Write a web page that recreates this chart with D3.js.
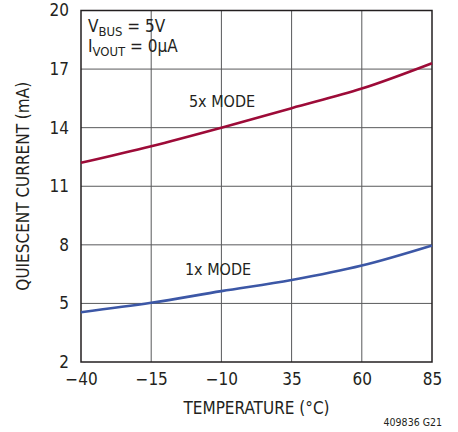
<!DOCTYPE html>
<html lang="en">
<head>
    <meta charset="UTF-8">
    <title>Quiescent Current vs Temperature</title>
    <script src="https://d3js.org/d3.v7.min.js"></script>
    <style>
        body { margin: 0; background: #fff; }
        text { font-family: "DejaVu Sans Condensed", "Liberation Sans Narrow", sans-serif; fill: #231f20; }
    </style>
</head>
<body>
    <script>
        // DATA
        var temps = [-40, -15, 10, 35, 60, 85];
        var mode5x = [12.2, 13.05, 14.0, 15.0, 16.0, 17.3];
        var mode1x = [4.55, 5.03, 5.63, 6.2, 6.94, 7.97];
        var xTickValues = [-40, -15, 10, 35, 60, 85];
        var xTickLabels = ["\u221240", "\u221215", "\u221210", "35", "60", "85"];
        var yTickValues = [2, 5, 8, 11, 14, 17, 20];

        var width = 458, height = 432;
        var margin = {left: 81, right: 26, top: 10.5, bottom: 70};

        var svg = d3.select("body").append("svg")
            .attr("width", width)
            .attr("height", height);

        var x = d3.scaleLinear().domain([-40, 85]).range([margin.left, width - margin.right]);
        var y = d3.scaleLinear().domain([2, 20]).range([height - margin.bottom, margin.top]);

        // grid
        var grid = svg.append("g").attr("stroke", "#58595b").attr("stroke-width", 1);
        grid.selectAll(".vx").data(xTickValues.slice(1, -1)).enter().append("line")
            .attr("x1", d => x(d)).attr("x2", d => x(d))
            .attr("y1", y(2)).attr("y2", y(20));
        grid.selectAll(".hy").data(yTickValues.slice(1, -1)).enter().append("line")
            .attr("x1", x(-40)).attr("x2", x(85))
            .attr("y1", d => y(d)).attr("y2", d => y(d));

        // frame
        svg.append("rect")
            .attr("x", x(-40)).attr("y", y(20))
            .attr("width", x(85) - x(-40)).attr("height", y(2) - y(20))
            .attr("fill", "none").attr("stroke", "#231f20").attr("stroke-width", 1.5);

        // axes
        var xAxis = d3.axisBottom(x).tickValues(xTickValues)
            .tickFormat((d, i) => xTickLabels[i]).tickSize(0).tickPadding(11);
        svg.append("g").attr("transform", "translate(0," + y(2) + ")").call(xAxis)
            .call(g => g.select(".domain").remove())
            .selectAll("text").attr("font-size", 17).style("font-family", null);

        var yAxis = d3.axisLeft(y).tickValues(yTickValues).tickSize(0).tickPadding(12);
        svg.append("g").attr("transform", "translate(" + x(-40) + ",0)").call(yAxis)
            .call(g => g.select(".domain").remove())
            .selectAll("text").attr("font-size", 17).style("font-family", null);

        // lines
        var line = d3.line().x(d => x(d[0])).y(d => y(d[1])).curve(d3.curveMonotoneX);
        svg.append("path").datum(d3.zip(temps, mode5x))
            .attr("d", line).attr("fill", "none")
            .attr("stroke", "#9d0b38").attr("stroke-width", 2.6);
        svg.append("path").datum(d3.zip(temps, mode1x))
            .attr("d", line).attr("fill", "none")
            .attr("stroke", "#3c57a6").attr("stroke-width", 2.6);

        // labels
        svg.append("text").attr("x", 222).attr("y", 107).attr("text-anchor", "middle")
            .attr("font-size", 16).text("5x MODE");
        svg.append("text").attr("x", 218).attr("y", 275).attr("text-anchor", "middle")
            .attr("font-size", 16).text("1x MODE");

        var note = svg.append("text").attr("font-size", 17);
        var t1 = note.append("tspan").attr("x", 88).attr("y", 32);
        t1.append("tspan").text("V");
        t1.append("tspan").attr("font-size", 13).attr("dy", 4).text("BUS");
        t1.append("tspan").attr("dy", -4).text(" = 5V");
        var t2 = note.append("tspan").attr("x", 88).attr("y", 52);
        t2.append("tspan").text("I");
        t2.append("tspan").attr("font-size", 13).attr("dy", 4).text("VOUT");
        t2.append("tspan").attr("dy", -4).text(" = 0\u03bcA");

        // axis titles
        svg.append("text").attr("x", (x(-40) + x(85)) / 2).attr("y", 414)
            .attr("text-anchor", "middle").attr("font-size", 17).text("TEMPERATURE (\u00b0C)");
        svg.append("text").attr("transform", "translate(29," + y(11) + ") rotate(-90)")
            .attr("text-anchor", "middle").attr("font-size", 17).text("QUIESCENT CURRENT (mA)");

        svg.append("text").attr("x", 442).attr("y", 426).attr("text-anchor", "end")
            .attr("font-size", 10.5).text("409836 G21");
    </script>
</body>
</html>
